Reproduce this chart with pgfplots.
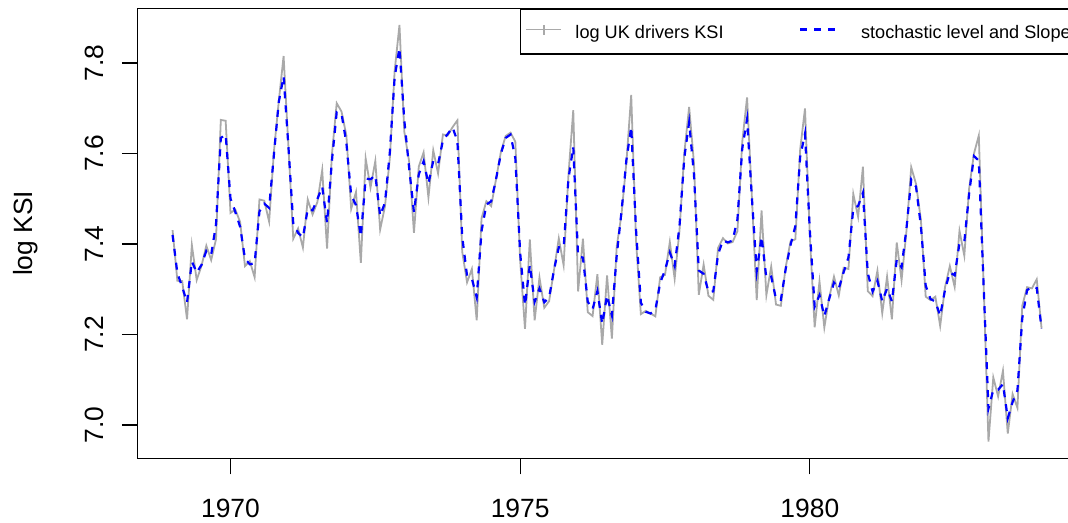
\documentclass[border=0pt]{standalone}
\usepackage{fontspec}
\setmainfont{Liberation Sans}
\usepackage{pgfplots}
\pgfplotsset{compat=1.18}
\usepackage{pgfplotstable}

\definecolor{ksigray}{RGB}{169,169,169}
\definecolor{levelblue}{RGB}{0,0,255}

% Legend images: short line with a plus for the observations,
% short dashed line for the smoothed signal.
\pgfplotsset{
  ksi legend/.style={legend image code/.code={
    \path[draw=none, fill=none] (0pt,-12.6pt) rectangle (36.75pt,15.15pt);
    \draw[##1] (0pt,2.7pt) -- (26.25pt,2.7pt);
    \draw[##1, line width=1pt] (13.125pt,-1.05pt) -- (13.125pt,6.45pt);
  }},
  level legend/.style={legend image code/.code={
    \path[draw=none, fill=none] (0pt,-12.6pt) rectangle (45.75pt,15.15pt);
    \draw[##1] (0pt,2.7pt) -- (26.25pt,2.7pt);
  }},
}

% Monthly log of UK car drivers killed or seriously injured,
% together with the smoothed signal of the level-and-slope model.
\pgfplotstableread{
yr mo logksi level
1969 1 7.4307 7.4200
1969 2 7.3186 7.3353
1969 3 7.3179 7.3053
1969 4 7.2334 7.2707
1969 5 7.3976 7.3614
1969 6 7.3205 7.3368
1969 7 7.3518 7.3538
1969 8 7.3963 7.3849
1969 9 7.3645 7.3762
1969 10 7.4104 7.4431
1969 11 7.6742 7.6343
1969 12 7.6723 7.6420
1970 1 7.4686 7.5003
1970 2 7.4760 7.4707
1970 3 7.4484 7.4380
1970 4 7.3512 7.3674
1970 5 7.3621 7.3551
1970 6 7.3265 7.3576
1970 7 7.4984 7.4722
1970 8 7.4956 7.4891
1970 9 7.4495 7.4797
1970 10 7.6049 7.5981
1970 11 7.7152 7.7137
1970 12 7.8153 7.7704
1971 1 7.6158 7.6151
1971 2 7.4116 7.4456
1971 3 7.4343 7.4246
1971 4 7.3921 7.4144
1971 5 7.4984 7.4775
1971 6 7.4651 7.4743
1971 7 7.4928 7.4992
1971 8 7.5632 7.5266
1971 9 7.3896 7.4467
1971 10 7.5969 7.5829
1971 11 7.7111 7.6912
1971 12 7.6926 7.6875
1972 1 7.6401 7.6236
1972 2 7.4776 7.5076
1972 3 7.5148 7.4857
1972 4 7.3582 7.4163
1972 5 7.5889 7.5446
1972 6 7.5245 7.5430
1972 7 7.5833 7.5518
1972 8 7.4319 7.4623
1972 9 7.4833 7.4914
1972 10 7.5889 7.6020
1972 11 7.7820 7.7683
1972 12 7.8839 7.8333
1973 1 7.6483 7.6737
1973 2 7.5823 7.5686
1973 3 7.4248 7.4704
1973 4 7.5710 7.5538
1973 5 7.6024 7.5827
1973 6 7.5027 7.5333
1973 7 7.6069 7.5836
1973 8 7.5559 7.5765
1973 9 7.6420 7.6288
1973 10 7.6401 7.6431
1973 11 7.6582 7.6577
1973 12 7.6732 7.6274
1974 1 7.3828 7.4162
1974 2 7.3152 7.3298
1974 3 7.3447 7.3233
1974 4 7.2313 7.2821
1974 5 7.4565 7.4284
1974 6 7.4944 7.4871
1974 7 7.4838 7.4942
1974 8 7.5427 7.5429
1974 9 7.6029 7.5992
1974 10 7.6387 7.6344
1974 11 7.6459 7.6418
1974 12 7.6261 7.5896
1975 1 7.3633 7.3801
1975 2 7.2123 7.2646
1975 3 7.4098 7.3534
1975 4 7.2313 7.2723
1975 5 7.3258 7.3016
1975 6 7.2591 7.2713
1975 7 7.2738 7.2818
1975 8 7.3415 7.3420
1975 9 7.4122 7.3927
1975 10 7.3531 7.3918
1975 11 7.5523 7.5439
1975 12 7.6958 7.6142
1976 1 7.2951 7.3727
1976 2 7.4116 7.3698
1976 3 7.2493 7.2724
1976 4 7.2407 7.2558
1976 5 7.3330 7.2958
1976 6 7.1771 7.2235
1976 7 7.3304 7.2864
1976 8 7.1907 7.2422
1976 9 7.3945 7.3747
1976 10 7.4663 7.4725
1976 11 7.5797 7.5851
1976 12 7.7293 7.6586
1977 1 7.4074 7.4313
1977 2 7.2450 7.2704
1977 3 7.2521 7.2502
1977 4 7.2464 7.2463
1977 5 7.2400 7.2539
1977 6 7.3265 7.3143
1977 7 7.3317 7.3418
1977 8 7.4043 7.3812
1977 9 7.3232 7.3513
1977 10 7.4295 7.4393
1977 11 7.6009 7.5905
1977 12 7.7030 7.6690
1978 1 7.5787 7.5537
1978 2 7.2876 7.3413
1978 3 7.3544 7.3340
1978 4 7.2855 7.2945
1978 5 7.2766 7.2952
1978 6 7.3915 7.3775
1978 7 7.4128 7.4079
1978 8 7.4013 7.4035
1978 9 7.4043 7.4075
1978 10 7.4283 7.4543
1978 11 7.6256 7.6108
1978 12 7.7240 7.6760
1979 1 7.5027 7.5019
1979 2 7.2759 7.3397
1979 3 7.4742 7.4164
1979 4 7.2869 7.3244
1979 5 7.3499 7.3279
1979 6 7.2661 7.2783
1979 7 7.2633 7.2765
1979 8 7.3486 7.3443
1979 9 7.4055 7.3977
1979 10 7.4104 7.4394
1979 11 7.6089 7.5927
1979 12 7.6994 7.6436
1980 1 7.4176 7.4296
1980 2 7.2160 7.2614
1980 3 7.3172 7.2867
1980 4 7.2153 7.2405
1980 5 7.2814 7.2784
1980 6 7.3278 7.3146
1980 7 7.2862 7.3016
1980 8 7.3473 7.3377
1980 9 7.3447 7.3700
1980 10 7.5105 7.4780
1980 11 7.4599 7.4842
1980 12 7.5710 7.5131
1981 1 7.2958 7.3354
1981 2 7.2848 7.2949
1981 3 7.3409 7.3184
1981 4 7.2471 7.2733
1981 5 7.3278 7.3015
1981 6 7.2334 7.2730
1981 7 7.4031 7.3652
1981 8 7.3199 7.3485
1981 9 7.4272 7.4325
1981 10 7.5695 7.5426
1981 11 7.5327 7.5264
1981 12 7.4536 7.4399
1982 1 7.2835 7.3079
1982 2 7.2759 7.2782
1982 3 7.2835 7.2727
1982 4 7.2189 7.2414
1982 5 7.3045 7.2987
1982 6 7.3512 7.3373
1982 7 7.3052 7.3307
1982 8 7.4289 7.4021
1982 9 7.3741 7.4046
1982 10 7.5229 7.5121
1982 11 7.5999 7.5943
1982 12 7.6396 7.5841
1983 1 7.3092 7.3069
1983 2 6.9632 7.0364
1983 3 7.1050 7.0774
1983 4 7.0631 7.0779
1983 5 7.1196 7.0903
1983 6 6.9810 7.0149
1983 7 7.0682 7.0506
1983 8 7.0379 7.0763
1983 9 7.2633 7.2357
1983 10 7.3045 7.2979
1983 11 7.3018 7.3052
1983 12 7.3219 7.3026
1984 1 7.2131 7.2131
}\ksidata

\begin{document}
\begin{tikzpicture}
\begin{axis}[
  name=ax,
  scale only axis,
  width=703.9pt, height=337.4pt,
  xmin=1968.4, xmax=1984.6,
  ymin=6.9264, ymax=7.9207,
  axis line style={line width=0.9pt},
  tick pos=left, tick align=outside,
  major tick length=12pt,
  tick style={black, line width=0.9pt},
  xtick={1970,1975,1980}, xticklabels={1970,1975,1980},
  ytick={7.0,7.2,7.4,7.6,7.8}, yticklabels={7.0,7.2,7.4,7.6,7.8},
  ticklabel style={font=\fontsize{19.8}{24}\selectfont},
  xticklabel shift=15pt,
  yticklabel style={rotate=90, anchor=south},
  yticklabel shift=10pt,
  every axis y label/.style={at={(axis description cs:-0.112,0.5)},
    rotate=90, anchor=base, font=\fontsize{19.8}{24}\selectfont},
  ylabel={log KSI},
  legend columns=2,
  legend cell align=left,
  legend style={at={(rel axis cs:1,1)}, anchor=north east,
    draw=black, line width=0.9pt, fill=white,
    inner xsep=3.75pt, inner ysep=3pt,
    font=\fontsize{13.6}{16}\selectfont,
    nodes={inner sep=0pt},
    /tikz/every even column/.append style={column sep=56.5pt}},
]
\addplot[ksigray, line width=1.35pt, ksi legend]
  table[x expr=\thisrow{yr}+(\thisrow{mo}-1)/12, y=logksi] {\ksidata};
\addlegendentry{log UK drivers KSI}
\addplot[levelblue, line width=1.65pt, dash pattern=on 5.25pt off 5.25pt, level legend]
  table[x expr=\thisrow{yr}+(\thisrow{mo}-1)/12, y=level] {\ksidata};
\addlegendentry{stochastic level and Slope\hspace{5.5pt}}
\end{axis}
\pgfresetboundingbox
\path[use as bounding box] ([xshift=-103.35pt,yshift=-48.5pt]ax.south west)
  rectangle ([xshift=697.65pt,yshift=343.7pt]ax.south west);
\end{tikzpicture}
\end{document}
